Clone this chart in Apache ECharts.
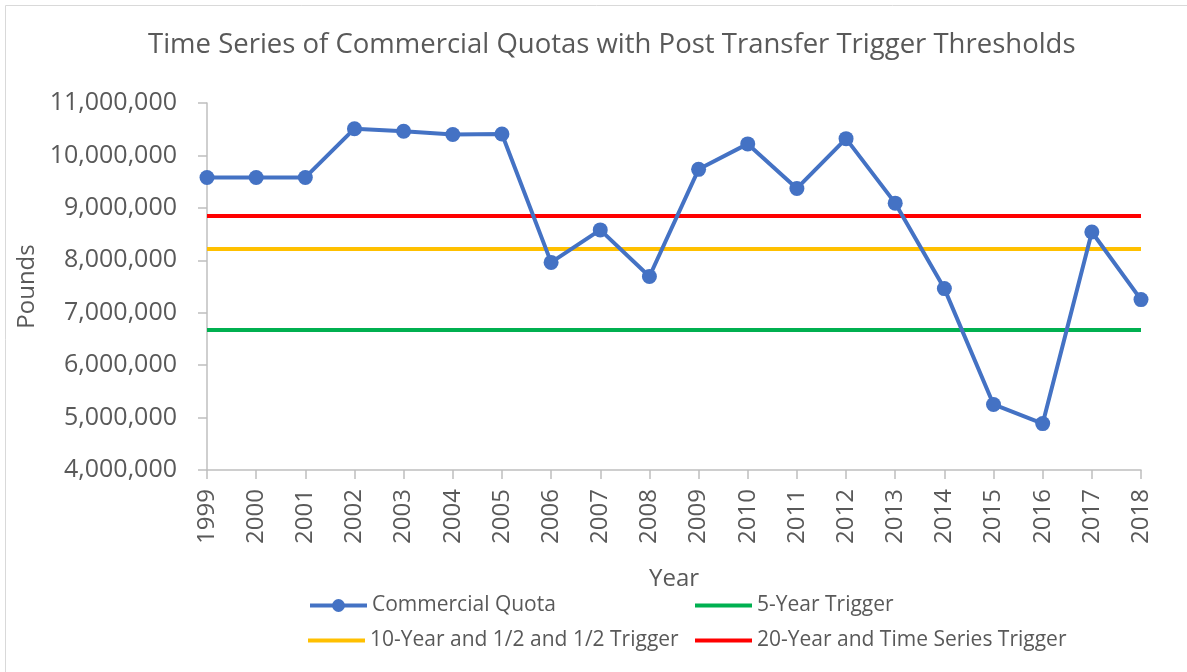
<!DOCTYPE html>
<html>
<head>
<meta charset="utf-8">
<script src="https://cdn.jsdelivr.net/npm/echarts@6/dist/echarts.min.js"></script>
<style>
  html, body { margin: 0; padding: 0; background: #fff; }
  #chart { width: 1187px; height: 672px; }
</style>
</head>
<body>
<div id="chart"></div>
<script>
const years = ['1999', '2000', '2001', '2002', '2003', '2004', '2005', '2006', '2007', '2008',
  '2009', '2010', '2011', '2012', '2013', '2014', '2015', '2016', '2017', '2018']
const commercialQuota = [9580000, 9580000, 9580000, 10510000, 10460000, 10400000, 10410000, 7960000, 8580000, 7690000,
  9735000, 10220000, 9370000, 10320000, 9090000, 7460000, 5250000, 4885000, 8540000, 7250000]
const fiveYearTrigger = 6670000
const tenYearTrigger = 8215000
const twentyYearTrigger = 8845000

const font = "'Open Sans', 'Noto Sans', sans-serif"
const grey = '#595959'
const axisGrey = '#bfbfbf'

const chart = echarts.init(document.getElementById('chart'), null, { renderer: 'canvas' })

function triggerSeries(name, value, color) {
  return {
    name: name,
    type: 'line',
    data: [],
    symbol: 'none',
    itemStyle: { color: color },
    lineStyle: { color: color, width: 4 },
    markLine: {
      silent: true,
      symbol: 'none',
      label: { show: false },
      lineStyle: { color: color, width: 4, type: 'solid' },
      data: [{ yAxis: value }]
    }
  }
}

// quota keeps the line+dot icon, the triggers get a plain bar like Excel's line swatch
function legendItem(name, left, top, plain) {
  return {
    data: plain ? [{ name: name, icon: 'rect' }] : [{ name: name, lineStyle: { width: 4 } }],
    left: left,
    top: top,
    itemWidth: 57,
    itemHeight: plain ? 4 : 16,
    textStyle: { fontFamily: font, fontSize: 21, color: grey },
    selectedMode: false
  }
}

chart.setOption({
  animation: false,
  title: {
    text: 'Time Series of Commercial Quotas with Post Transfer Trigger Thresholds',
    left: 143,
    top: 26,
    textStyle: { fontFamily: font, fontSize: 27.5, fontWeight: 'normal', color: grey }
  },
  graphic: [{
    type: 'rect',
    shape: { x: 5.5, y: 5.5, width: 1200, height: 700 },
    style: { fill: 'none', stroke: '#d9d9d9', lineWidth: 1 }
  }],
  legend: [
    legendItem('Commercial Quota', 303, 590, false),
    legendItem('5-Year Trigger', 690, 590, true),
    legendItem('10-Year and 1/2 and 1/2 Trigger', 303, 625, true),
    legendItem('20-Year and Time Series Trigger', 690, 625, true)
  ],
  grid: { left: 207, right: 46, top: 103, bottom: 202 },
  xAxis: {
    type: 'category',
    data: years,
    boundaryGap: false,
    name: 'Year',
    nameLocation: 'middle',
    nameGap: 97,
    nameTextStyle: { fontFamily: font, fontSize: 24, color: grey },
    axisLine: { lineStyle: { color: axisGrey, width: 1.5 } },
    axisTick: { length: 9, lineStyle: { color: axisGrey, width: 1.5 } },
    axisLabel: { rotate: 90, margin: 19, fontFamily: font, fontSize: 24, color: grey, interval: 0 },
    splitLine: { show: false }
  },
  yAxis: {
    type: 'value',
    min: 4000000,
    max: 11000000,
    interval: 1000000,
    name: 'Pounds',
    nameLocation: 'middle',
    nameRotate: 90,
    nameGap: 165,
    nameTextStyle: { fontFamily: font, fontSize: 24, color: grey },
    axisLine: { show: true, lineStyle: { color: axisGrey, width: 1.5 } },
    axisTick: { show: true, length: 9, lineStyle: { color: axisGrey, width: 1.5 } },
    axisLabel: {
      margin: 30,
      fontFamily: font,
      fontSize: 25,
      color: grey,
      formatter: v => v.toLocaleString('en-US')
    },
    splitLine: { show: false }
  },
  series: [
    {
      name: 'Commercial Quota',
      type: 'line',
      data: commercialQuota,
      symbol: 'circle',
      symbolSize: 15,
      itemStyle: { color: '#4472C4' },
      lineStyle: { color: '#4472C4', width: 4 },
      z: 5
    },
    triggerSeries('5-Year Trigger', fiveYearTrigger, '#00B050'),
    triggerSeries('10-Year and 1/2 and 1/2 Trigger', tenYearTrigger, '#FFC000'),
    triggerSeries('20-Year and Time Series Trigger', twentyYearTrigger, '#FF0000')
  ]
})
</script>
</body>
</html>
